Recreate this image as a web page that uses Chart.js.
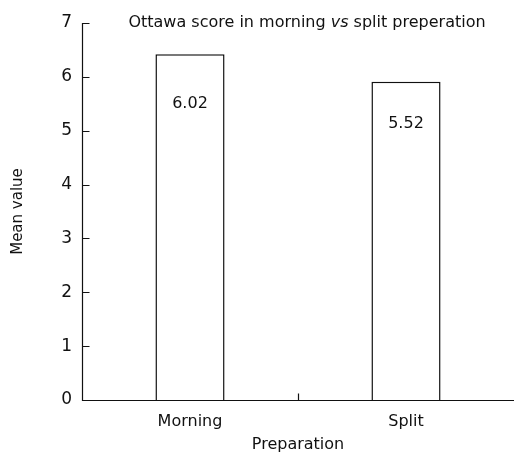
<!DOCTYPE html>
<html>
<head>
<meta charset="utf-8">
<script src="https://cdn.jsdelivr.net/npm/chart.js@4"></script>
<style>
  body { margin: 0; background: #fff; }
  #wrap { width: 514px; height: 452px; position: relative; }
</style>
</head>
<body>
<div id="wrap"><canvas id="scoreChart"></canvas></div>
<script>
const categories = ['Morning', 'Split'];
const meanValues = [6.42, 5.91];
const barLabels = ['6.02', '5.52'];
const yTicks = [0, 1, 2, 3, 4, 5, 6, 7];

const FONT = "'DejaVu Sans', sans-serif";

// axis lines on top of the bars, inside ticks, bar labels and the title
const extrasPlugin = {
  id: 'extras',
  afterDraw(chart) {
    const ctx = chart.ctx;
    const x = chart.scales.x;
    const y = chart.scales.y;
    const area = chart.chartArea;
    ctx.save();
    ctx.strokeStyle = '#111';
    ctx.lineWidth = 1.2;
    ctx.beginPath();
    const left = Math.round(area.left) + 0.5;
    const bottom = Math.round(area.bottom) + 0.5;
    ctx.moveTo(left, Math.round(area.top));
    ctx.lineTo(left, bottom);
    ctx.lineTo(area.right, bottom);
    yTicks.forEach(t => {
      const py = Math.round(y.getPixelForValue(t)) + 0.5;
      ctx.moveTo(left, py);
      ctx.lineTo(left + 7, py);
    });
    const mid = Math.round((x.getPixelForValue(0) + x.getPixelForValue(1)) / 2) + 0.5;
    ctx.moveTo(mid, bottom);
    ctx.lineTo(mid, bottom - 7);
    ctx.stroke();

    ctx.fillStyle = '#111';
    ctx.font = '16px ' + FONT;
    ctx.textAlign = 'center';
    ctx.textBaseline = 'middle';
    const offsets = [50, 42];
    chart.getDatasetMeta(0).data.forEach((bar, i) => {
      ctx.fillText(barLabels[i], bar.x, bar.y + offsets[i]);
    });

    // title with italic "vs"
    const parts = [
      { t: 'Ottawa score in morning ', f: '16px ' + FONT },
      { t: 'vs', f: 'italic 16px ' + FONT },
      { t: ' split preperation', f: '16px ' + FONT }
    ];
    let total = 0;
    parts.forEach(p => { ctx.font = p.f; p.w = ctx.measureText(p.t).width; total += p.w; });
    let tx = 307 - total / 2;
    ctx.textAlign = 'left';
    parts.forEach(p => { ctx.font = p.f; ctx.fillText(p.t, tx, 23); tx += p.w; });
    ctx.restore();
  }
};

new Chart(document.getElementById('scoreChart'), {
  type: 'bar',
  data: {
    labels: categories,
    datasets: [{
      data: meanValues,
      backgroundColor: '#ffffff',
      borderColor: '#111',
      borderWidth: 1.5,
      barPercentage: 0.32,
      categoryPercentage: 1
    }]
  },
  options: {
    responsive: true,
    maintainAspectRatio: false,
    animation: false,
    layout: { padding: { top: 23, right: 0, left: 0, bottom: 0 } },
    plugins: { legend: { display: false }, tooltip: { enabled: false } },
    scales: {
      x: {
        grid: { display: false, drawTicks: false },
        border: { display: false },
        ticks: { color: '#111', font: { family: FONT, size: 16 }, padding: 12 },
        title: { display: true, text: 'Preparation', color: '#111', font: { family: FONT, size: 16 }, padding: { top: 0, bottom: -2 } },
        afterFit(scale) { scale.height = 52; }
      },
      y: {
        min: 0,
        max: 7,
        grid: { display: false, drawTicks: false },
        border: { display: false },
        ticks: { stepSize: 1, color: '#111', font: { family: FONT, size: 17 }, padding: 10 },
        title: { display: true, text: 'Mean value', color: '#111', font: { family: FONT, size: 15 }, padding: { top: 9, bottom: 0 } },
        afterFit(scale) { scale.width = 82; }
      }
    }
  },
  plugins: [extrasPlugin]
});
</script>
</body>
</html>
